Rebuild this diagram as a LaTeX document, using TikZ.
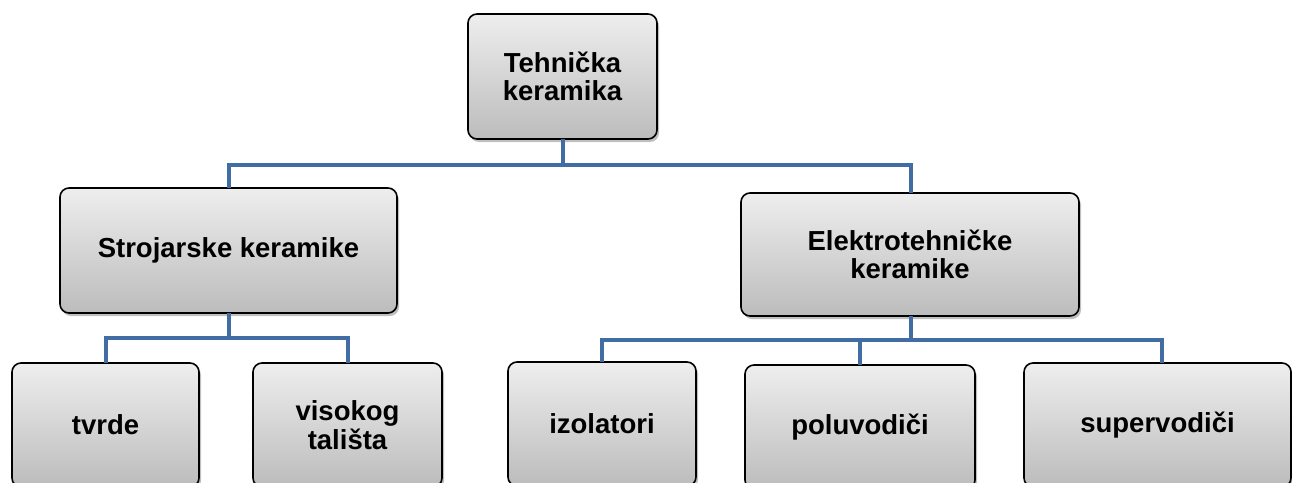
\documentclass[tikz,border=0pt]{standalone}
\usepackage{fontspec}
\setmainfont{Liberation Sans}
\usetikzlibrary{shadows}
\definecolor{linkblue}{RGB}{66,108,164}
\definecolor{boxtop}{RGB}{238,238,238}
\definecolor{boxbot}{RGB}{188,188,188}
\tikzset{
  box/.style={draw=black, line width=1.6pt, rounded corners=9pt,
    top color=boxtop, bottom color=boxbot, align=center,
    inner sep=0pt, outer sep=0pt,
    font=\fontsize{27.5}{28.5}\selectfont\bfseries,
    drop shadow={shadow xshift=2pt, shadow yshift=-3pt, opacity=0.25, fill=black}},
  link/.style={draw=linkblue, line width=4pt}
}
\begin{document}
\begin{tikzpicture}[x=1pt,y=-1pt]
\useasboundingbox (0,0) rectangle (1292,482);
\clip (0,0) rectangle (1292,482);
\node[box, minimum width=189pt, minimum height=125pt] (top) at (562.5,76.5) {Tehnička\\keramika};
\node[box, minimum width=337pt, minimum height=125pt] (stroj) at (228.5,250.5) {Strojarske keramike};
\node[box, minimum width=338pt, minimum height=123pt] (elek) at (910,254.5) {Elektrotehničke\\keramike};
\node[box, minimum width=187pt, minimum height=124pt] (tvrde) at (105.5,425) {tvrde};
\node[box, minimum width=189pt, minimum height=124pt] (vis) at (347.5,425) {visokog\\tališta};
\node[box, minimum width=188pt, minimum height=124pt] (izo) at (602,424) {izolatori};
\node[box, minimum width=230pt, minimum height=124pt] (polu) at (860,427) {poluvodiči};
\node[box, minimum width=267pt, minimum height=124pt] (sup) at (1157.5,425) {supervodiči};
\draw[link] (top.south) -- ++(0,26) coordinate (j1) -| (stroj.north);
\draw[link] (j1) -| ([xshift=1pt]elek.north);
\draw[link] (stroj.south) -- ++(0,25) coordinate (j2) -| (tvrde.north);
\draw[link] (j2) -| (vis.north);
\draw[link] ([xshift=1pt]elek.south) -- ++(0,24) coordinate (j3) -| (izo.north);
\draw[link] (j3) -| (polu.north);
\draw[link] (j3) -| ([xshift=4.5pt]sup.north);
\end{tikzpicture}
\end{document}
